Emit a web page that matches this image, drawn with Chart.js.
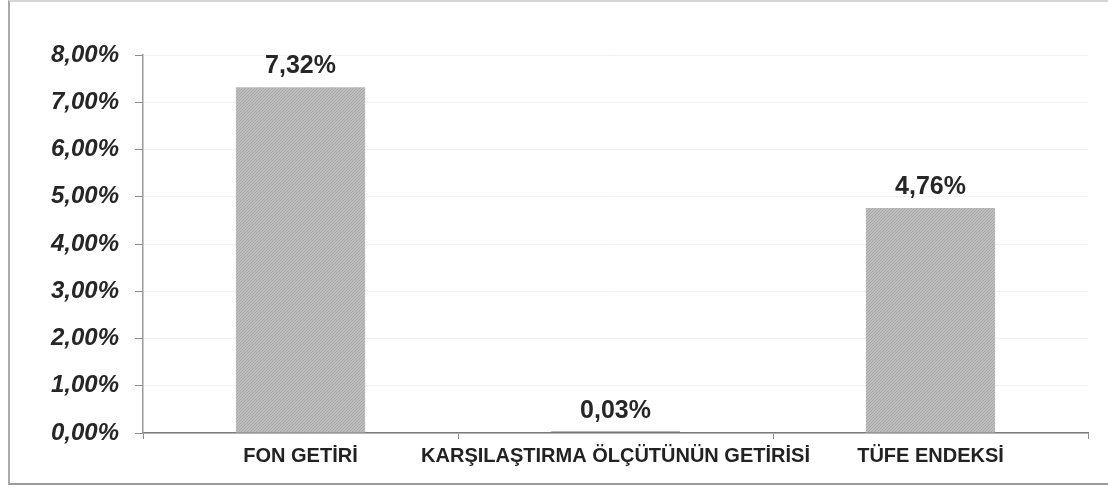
<!DOCTYPE html>
<html>
<head>
<meta charset="utf-8">
<script src="https://cdn.jsdelivr.net/npm/chart.js@4.4.0/dist/chart.umd.min.js"></script>
<style>
  html, body { margin: 0; padding: 0; background: #fff; }
  #wrap { position: relative; width: 1108px; height: 489px; }
  #frame { position: absolute; left: 8px; top: 0px; width: 1110px; height: 485px;
           border-left: 2px solid #a9a9a9; border-top: 2px solid #d6d6d6; border-bottom: 2px solid #9a9a9a; box-sizing: border-box; }
  canvas { position: absolute; left: 0; top: 0; }
</style>
</head>
<body>
<div id="wrap">
  <div id="frame"></div>
  <canvas id="c" width="1108" height="489"></canvas>
</div>
<script>
const categories = ["FON GETİRİ", "KARŞILAŞTIRMA ÖLÇÜTÜNÜN GETİRİSİ", "TÜFE ENDEKSİ"];
const values = [7.32, 0.03, 4.76];
const valueLabels = ["7,32%", "0,03%", "4,76%"];
const yTicks = [0, 1, 2, 3, 4, 5, 6, 7, 8];
const yTickLabels = ["0,00%", "1,00%", "2,00%", "3,00%", "4,00%", "5,00%", "6,00%", "7,00%", "8,00%"];

function makePattern() {
  const p = document.createElement('canvas');
  p.width = 3; p.height = 3;
  const g = p.getContext('2d');
  g.fillStyle = '#bdbdbd'; g.fillRect(0, 0, 3, 3);
  g.fillStyle = '#a9a9a9'; g.fillRect(0, 0, 1, 1); g.fillRect(1, 2, 1, 1); g.fillRect(2, 1, 1, 1);
  return document.getElementById('c').getContext('2d').createPattern(p, 'repeat');
}
const pat = makePattern();

const valueLabelPlugin = {
  id: 'valueLabels',
  afterDatasetsDraw(chart) {
    const ctx = chart.ctx;
    const meta = chart.getDatasetMeta(0);
    ctx.save();
    ctx.font = 'bold 25px "Liberation Sans", Arial, sans-serif';
    ctx.fillStyle = '#262626';
    ctx.textAlign = 'center';
    ctx.textBaseline = 'alphabetic';
    meta.data.forEach((bar, i) => {
      ctx.fillText(valueLabels[i], bar.x, bar.y - 14);
    });
    ctx.restore();
  }
};

new Chart(document.getElementById('c'), {
  type: 'bar',
  data: {
    labels: categories,
    datasets: [{
      data: values,
      backgroundColor: [pat, '#6e6e6e', pat],
      borderWidth: 0,
      barPercentage: 0.41,
      categoryPercentage: 1.0
    }]
  },
  options: {
    responsive: false,
    animation: false,
    events: [],
    layout: { padding: { left: 0, top: 55, right: 20, bottom: 0 } },
    plugins: { legend: { display: false }, tooltip: { enabled: false } },
    scales: {
      x: {
        offset: true,
        grid: { display: true, offset: true, drawOnChartArea: false, drawTicks: true, tickLength: 6, tickColor: '#8a8a8a' },
        border: { color: '#7a7a7a', width: 1.5 },
        ticks: { color: '#222', font: { family: '"Liberation Sans", Arial, sans-serif', size: 20, weight: 'bold' }, padding: 5, maxRotation: 0, autoSkip: false },
        afterFit(s) { s.height = 56; }
      },
      y: {
        min: 0, max: 8,
        afterBuildTicks(s) { s.ticks = yTicks.map(v => ({ value: v })); },
        grid: { color: '#f1f1f1', lineWidth: 1, drawTicks: true, tickLength: 8, tickColor: '#8a8a8a' },
        border: { color: '#9a9a9a', width: 1.5 },
        ticks: {
          color: '#262626',
          font: { family: '"Liberation Sans", Arial, sans-serif', size: 24, weight: 'bold', style: 'italic' },
          padding: 16,
          callback: (v) => yTickLabels[yTicks.indexOf(v)]
        },
        afterFit(s) { s.width = 143; }
      }
    }
  },
  plugins: [valueLabelPlugin]
});
</script>
</body>
</html>
